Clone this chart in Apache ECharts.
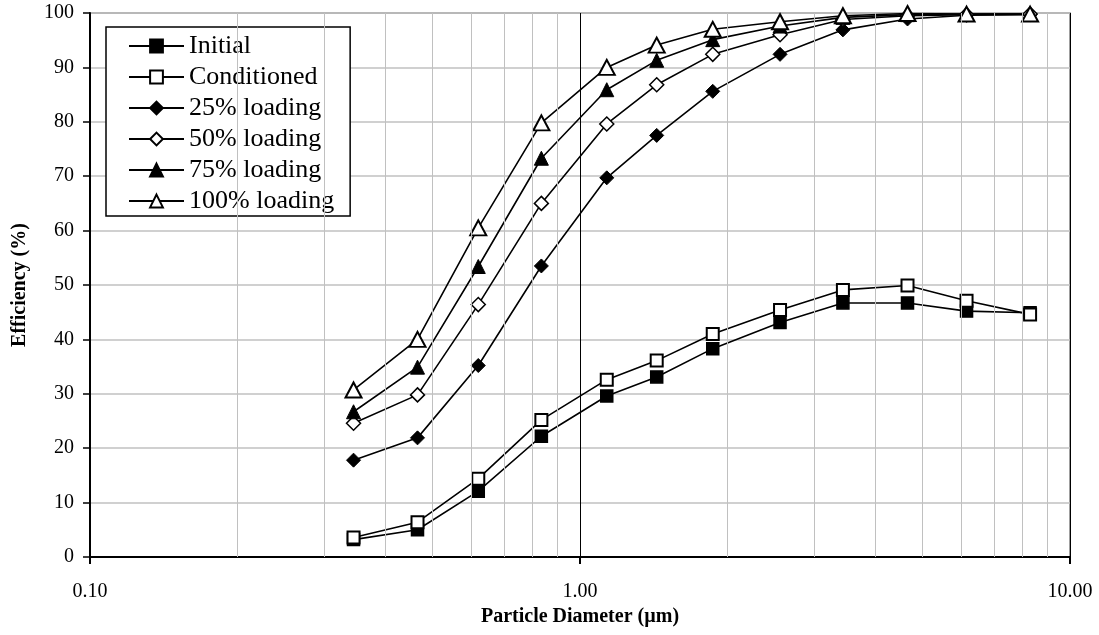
<!DOCTYPE html>
<html>
<head>
<meta charset="utf-8">
<script src="https://cdn.jsdelivr.net/npm/echarts@6/dist/echarts.min.js"></script>
<style>
html,body{margin:0;padding:0;background:#fff;}
#c{width:1099px;height:635px;}
</style>
</head>
<body>
<div id="c"></div>
<script>
// Particle diameters (µm)
var diameters = [0.345, 0.466, 0.62, 0.834, 1.134, 1.434, 1.866, 2.56, 3.44, 4.66, 6.15, 8.29];
// Efficiency (%)
var initial     = [3.2, 5.0, 12.1, 22.2, 29.6, 33.1, 38.3, 43.1, 46.7, 46.7, 45.2, 44.9];
var conditioned = [3.6, 6.4, 14.4, 25.2, 32.6, 36.1, 41.0, 45.4, 49.1, 49.9, 47.1, 44.6];
var load25      = [17.8, 21.9, 35.2, 53.5, 69.7, 77.5, 85.6, 92.4, 96.9, 98.9, 99.6, 99.7];
var load50      = [24.6, 29.8, 46.4, 65.0, 79.6, 86.8, 92.4, 96.0, 98.8, 99.5, 99.7, 99.8];
var load75      = [26.7, 34.9, 53.4, 73.3, 85.9, 91.3, 95.1, 97.6, 99.2, 99.7, 99.8, 99.8];
var load100     = [30.7, 40.0, 60.5, 79.8, 90.0, 94.1, 97.0, 98.4, 99.5, 99.9, 99.8, 99.8];
var seriesNames = ['Initial', 'Conditioned', '25% loading', '50% loading', '75% loading', '100% loading'];
// minor log gridline values
var minorGrid = [0.2, 0.3, 0.4, 0.5, 0.6, 0.7, 0.8, 0.9, 2, 3, 4, 5, 6, 7, 8, 9];

var FONT = '"Liberation Serif", "Times New Roman", serif';

function pairs(ys) {
  return diameters.map(function (d, i) { return [d, ys[i]]; });
}

function mkSeries(name, ys, symbol, size, fill, bw) {
  return {
    name: name,
    type: 'line',
    data: pairs(ys),
    symbol: symbol,
    symbolSize: size,
    showAllSymbol: true,
    z: 3,
    lineStyle: { color: '#000', width: 1.6 },
    itemStyle: { color: fill, borderColor: '#000', borderWidth: bw },
    emphasis: { disabled: true },
    animation: false
  };
}

var chart = echarts.init(document.getElementById('c'), null, { renderer: 'canvas' });

var series = [
  {
    type: 'line',
    data: [],
    z: 1,
    silent: true,
    markLine: {
      silent: true,
      symbol: 'none',
      label: { show: false },
      animation: false,
      lineStyle: { color: '#c0c0c0', type: 'solid', width: 1 },
      data: minorGrid.map(function (v) { return { xAxis: v }; })
    }
  },
  mkSeries(seriesNames[0], initial, 'rect', 12, '#000', 1.5),
  mkSeries(seriesNames[1], conditioned, 'rect', 12, '#fff', 2),
  mkSeries(seriesNames[2], load25, 'diamond', 14, '#000', 1),
  mkSeries(seriesNames[3], load50, 'diamond', 14, '#fff', 1.5),
  mkSeries(seriesNames[4], load75, 'triangle', 14, '#000', 1),
  mkSeries(seriesNames[5], load100, 'triangle', [16, 15], '#fff', 2)
];

chart.setOption({
  animation: false,
  backgroundColor: '#fff',
  textStyle: { fontFamily: FONT },
  grid: {
    left: 90, right: 29, top: 13, bottom: 78,
    show: true, borderColor: '#808080', borderWidth: 1.5,
    outerBoundsMode: 'none'
  },
  legend: {
    data: seriesNames,
    orient: 'vertical',
    left: 106, top: 27,
    backgroundColor: '#fff',
    borderColor: '#000',
    borderWidth: 1.5,
    padding: [6, 16, 2, 22],
    itemWidth: 55,
    itemHeight: 16,
    itemGap: 5,
    selectedMode: false,
    textStyle: { fontFamily: FONT, fontSize: 26, color: '#000' }
  },
  xAxis: {
    type: 'log',
    logBase: 10,
    min: 0.1,
    max: 10,
    name: 'Particle Diameter (µm)',
    nameLocation: 'middle',
    nameGap: 44,
    nameTextStyle: { fontFamily: FONT, fontSize: 20, fontWeight: 'bold', color: '#000' },
    axisLine: { show: true, onZero: false, lineStyle: { color: '#000', width: 2 } },
    axisTick: { show: true, length: 7, lineStyle: { color: '#000', width: 2 } },
    axisLabel: {
      fontFamily: FONT, fontSize: 20, color: '#000', margin: 25,
      formatter: function (v) { return Number(v).toFixed(2); }
    },
    splitLine: { show: true, lineStyle: { color: '#000', width: 1 } },
    minorTick: { show: false },
    minorSplitLine: { show: false }
  },
  yAxis: {
    type: 'value',
    min: 0,
    max: 100,
    interval: 10,
    name: 'Efficiency (%)',
    nameLocation: 'middle',
    nameRotate: 90,
    nameGap: 60,
    nameTextStyle: { fontFamily: FONT, fontSize: 20, fontWeight: 'bold', color: '#000' },
    axisLine: { show: true, lineStyle: { color: '#000', width: 2 } },
    axisTick: { show: true, length: 7, lineStyle: { color: '#000', width: 1.5 } },
    axisLabel: { fontFamily: FONT, fontSize: 20, color: '#000', margin: 16 },
    splitLine: { show: true, lineStyle: { color: '#c0c0c0', width: 1.5 } }
  },
  series: series
});
</script>
</body>
</html>
